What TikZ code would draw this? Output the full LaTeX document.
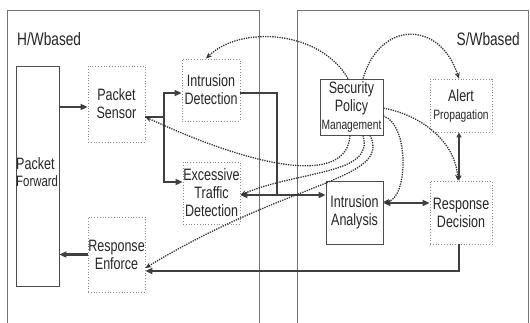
\documentclass[tikz,border=0pt]{standalone}
\usepackage{fontspec}
\setmainfont{Liberation Sans}[FakeStretch=0.76]
\usetikzlibrary{arrows.meta}
\begin{document}
\begin{tikzpicture}[x=1pt,y=-1pt,
  panel/.style={draw=black!55,line width=0.9pt},
  sbox/.style={draw=black!70,line width=0.8pt,inner sep=0pt,align=center,text=black!85,font=\fontsize{16.5}{18}\selectfont},
  dbox/.style={draw=black!45,dotted,line width=0.8pt,inner sep=0pt,align=center,text=black!85,font=\fontsize{16.5}{18}\selectfont},
  lbl/.style={inner sep=0pt,text=black!85,font=\fontsize{18}{18}\selectfont},
  thk/.style={draw=black!75,line width=2.2pt},
  conn/.style={thk,-{Triangle[length=7pt,width=6pt]}},
  bconn/.style={thk,{Triangle[length=7pt,width=6pt]}-{Triangle[length=7pt,width=6pt]}},
  mconn/.style={draw=black!75,line width=1.4pt,{Triangle[length=5pt,width=5pt]}-{Triangle[length=5pt,width=5pt]}},
  dcurve/.style={draw=black!80,line width=1.3pt,dash pattern=on 1.3pt off 1.1pt,-{Stealth[length=6pt,width=5pt]}}
]
\newcommand{\smtxt}{\fontsize{13.5}{15}\selectfont}
\useasboundingbox (0,0) rectangle (530,322);
% panels
\draw[panel] (7,325) -- (7,10) -- (259,10) -- (259,325);
\draw[panel] (297,325) -- (297,10) -- (528,10) -- (528,325);
\node[lbl,anchor=west] (hw) at (17,39) {H/Wbased};
\node[lbl,anchor=east] (sw) at (520,39) {S/Wbased};
% nodes
\node[sbox,minimum width=43pt,minimum height=220pt] (pf) at (37.5,176) {};
\node[lbl,anchor=west,align=left,font=\fontsize{16.5}{17}\selectfont] (pft) at (16,172) {Packet\\{\fontsize{15}{15}\selectfont Forward}};
\node[dbox,minimum width=57pt,minimum height=76pt] (ps) at (116.5,104) {Packet\\Sensor};
\node[dbox,minimum width=58pt,minimum height=62pt] (id) at (211,90) {Intrusion\\Detection};
\node[dbox,minimum width=57pt,minimum height=62pt] (etd) at (211.5,193) {Excessive\\Traffic\\Detection};
\node[dbox,minimum width=57pt,minimum height=75pt] (re) at (116.5,254.5) {Response\\Enforce};
\node[sbox,minimum width=63pt,minimum height=56pt] (spm) at (351.5,107) {Security\\Policy\\{\smtxt Management}};
\node[dbox,minimum width=62pt,minimum height=53pt] (ap) at (461,105.5) {Alert\\{\smtxt Propagation}};
\node[sbox,minimum width=57pt,minimum height=63pt] (ia) at (354.5,212.5) {Intrusion\\Analysis};
\node[dbox,minimum width=62pt,minimum height=63pt] (rd) at (461,212.5) {Response\\Decision};
% solid connectors
\coordinate (split) at (164,117);
\coordinate (join) at (277,195);
\draw[conn] (pf.east |- 0,107) -- (ps.west |- 0,107);
\draw[conn] (re.west) -- (re.west -| pf.east);
\draw[thk] (ps.east |- split) -- (split);
\draw[conn] (split) |- (id.west |- 0,93);
\draw[conn] (split) |- (etd.west |- 0,182);
\draw[thk] (id.east |- 0,93) -| (join);
\draw[bconn] (etd.east |- join) -- (ia.west |- join);
\draw[conn] (rd.south -| 459,0) |- (re.east |- 0,271);
\draw[bconn] (ia.east |- 0,203) -- (rd.west |- 0,203);
\draw[mconn] (ap.south -| 459,0) -- (rd.north -| 459,0);
% dotted curves
\draw[dcurve] (spm.north -| 348,0) .. controls (320,30) and (240,25) .. (id.north -| 206,0);
\draw[dcurve] (spm.north -| 363,0) .. controls (380,20) and (440,20) .. (ap.north -| 459,0);
\draw[dcurve] (spm.east |- 0,108) .. controls (420,115) and (455,140) .. (rd.north -| 458,0);
\draw[dcurve] (spm.east |- 0,116) .. controls (410,125) and (408,200) .. (ia.east |- 0,202);
\draw[dcurve] (spm.south -| 350,0) .. controls (347,185) and (260,170) .. (ps.east |- 0,117);
\draw[dcurve] (spm.south -| 363,0) .. controls (375,175) and (300,170) .. (etd.east |- 0,195);
\draw[dcurve] (spm.south -| 370,0) .. controls (392,180) and (290,180) .. (re.east |- 0,268);
\end{tikzpicture}
\end{document}
